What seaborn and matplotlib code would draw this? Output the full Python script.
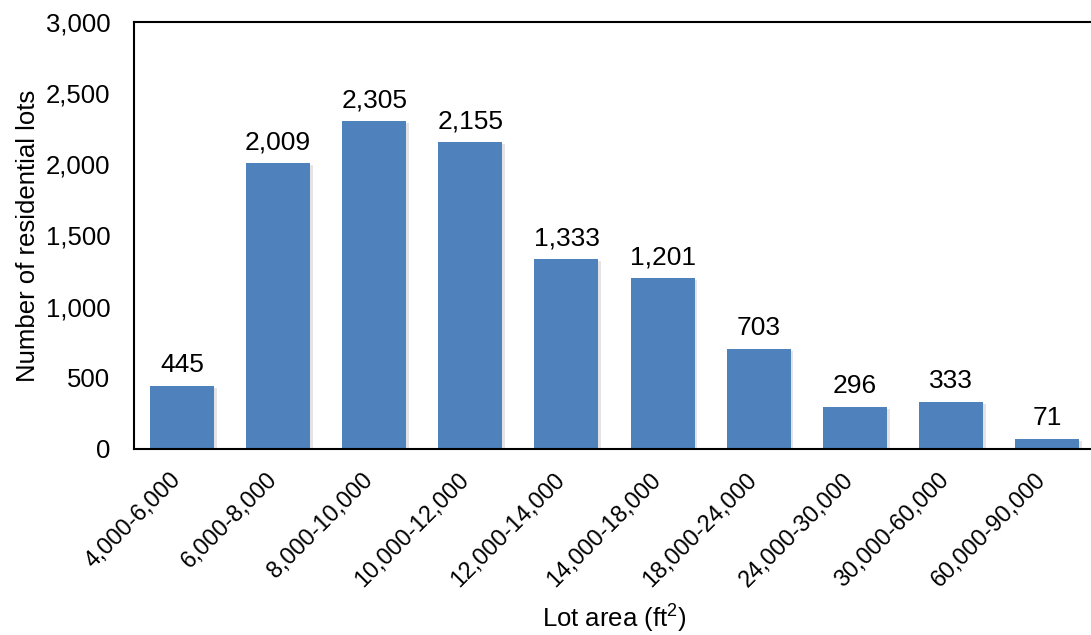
import matplotlib
matplotlib.use("Agg")
import matplotlib.pyplot as plt
import matplotlib.patheffects as pe
import matplotlib.transforms as mtransforms
import seaborn as sns
import pandas as pd

categories = ["4,000-6,000", "6,000-8,000", "8,000-10,000", "10,000-12,000",
              "12,000-14,000", "14,000-18,000", "18,000-24,000", "24,000-30,000",
              "30,000-60,000", "60,000-90,000"]
counts = [445, 2009, 2305, 2155, 1333, 1201, 703, 296, 333, 71]
yticks = [0, 500, 1000, 1500, 2000, 2500, 3000]

sns.set_theme(style="white")
plt.rcParams['font.family'] = ['Liberation Sans', 'DejaVu Sans']
plt.rcParams['mathtext.fontset'] = 'custom'
plt.rcParams['mathtext.rm'] = 'Liberation Sans'
plt.rcParams['mathtext.it'] = 'Liberation Sans:italic'
plt.rcParams['mathtext.bf'] = 'Liberation Sans:bold'

df = pd.DataFrame({"cat": categories, "n": counts})

fig = plt.figure(figsize=(10.91, 6.35), dpi=100)
ax = fig.add_axes([134/1091, 1 - 449/635, (1095 - 134)/1091, (449 - 22)/635])

sns.barplot(data=df, x="cat", y="n", color="#4F81BD", saturation=1, width=0.667,
            linewidth=0, ax=ax)
for p in ax.patches:
    p.set_path_effects([pe.SimplePatchShadow(offset=(2, -1.5), shadow_rgbFace="#888888", alpha=0.22),
                        pe.Normal()])

ax.set_xlim(-0.5, 9.5)
ax.set_ylim(0, 3000)
ax.set_yticks(yticks)
ax.set_yticklabels([f"{v:,}" for v in yticks], fontsize=18.5, color="black")
ax.tick_params(axis="y", length=0, pad=17)
ax.tick_params(axis="x", length=0, pad=19.5)
shift = mtransforms.ScaledTranslation(-5 / 100, 0, fig.dpi_scale_trans)
for lab in ax.get_xticklabels():
    lab.set_rotation(45)
    lab.set_ha("right")
    lab.set_va("center")
    lab.set_rotation_mode("anchor")
    lab.set_fontsize(16.8)
    lab.set_color("black")
    lab.set_transform(lab.get_transform() + shift)

for i, v in enumerate(counts):
    ax.annotate(f"{v:,}", (i, v), xytext=(0, 10), textcoords="offset points",
                ha="center", va="baseline", fontsize=19, color="black")

for s in ["left", "bottom", "top"]:
    ax.spines[s].set_color("black")
    ax.spines[s].set_linewidth(1.5)
ax.spines["right"].set_visible(False)

ax.set_xlabel("Lot area (ft$^{2}$)", fontsize=18.5, color="black", labelpad=8)
ax.set_ylabel("Number of residential lots", fontsize=18.5, color="black", labelpad=4)

fig.savefig("out.png", dpi=100)
